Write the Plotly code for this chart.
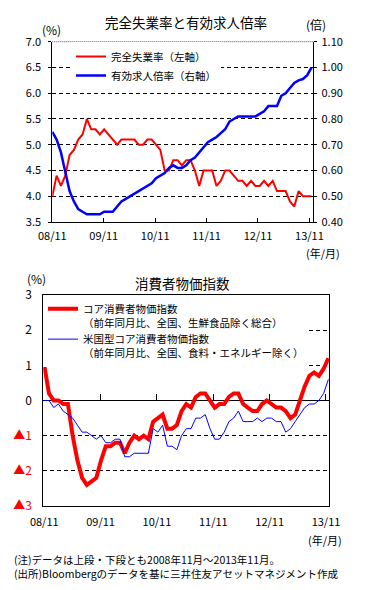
import plotly.graph_objects as go

# ---------------- data ----------------
MONTHS = list(range(61))  # 0 = 2008/11 ... 60 = 2013/11
TICK_TEXT = ["08/11", "09/11", "10/11", "11/11", "12/11", "13/11"]
TICK_POS = [0, 11.9, 23.8, 35.7, 47.6, 59.5]

UNEMP = [4.0, 4.4, 4.2, 4.4, 4.8, 4.9, 5.1, 5.2, 5.5, 5.3,
         5.3, 5.2, 5.3, 5.2, 5.1, 5.0, 5.1, 5.1, 5.1, 5.1,
         5.0, 5.0, 5.1, 5.1, 5.0, 4.9, 4.5, 4.5, 4.7, 4.7,
         4.6, 4.7, 4.7, 4.5, 4.2, 4.5, 4.5, 4.5, 4.2, 4.3,
         4.5, 4.5, 4.4, 4.3, 4.3, 4.2, 4.3, 4.2, 4.2, 4.3,
         4.2, 4.3, 4.1, 4.1, 4.1, 3.9, 3.8, 4.1, 4.0, 4.0, 4.0]

JOBRATIO = [0.75, 0.72, 0.67, 0.60, 0.52, 0.48, 0.45, 0.44, 0.43, 0.43,
            0.43, 0.43, 0.44, 0.44, 0.44, 0.46, 0.48, 0.49, 0.50, 0.51,
            0.52, 0.53, 0.54, 0.55, 0.57, 0.58, 0.59, 0.61, 0.62, 0.61,
            0.61, 0.62, 0.64, 0.65, 0.67, 0.69, 0.71, 0.72, 0.73, 0.745,
            0.76, 0.79, 0.80, 0.81, 0.81, 0.81, 0.81, 0.81, 0.82, 0.83,
            0.85, 0.85, 0.85, 0.89, 0.90, 0.92, 0.94, 0.95, 0.955, 0.97, 1.00]

CORE_CPI = [1.0, 0.2, 0.0, 0.0, -0.1, -0.1, -1.0, -1.7, -2.2, -2.4,
            -2.3, -2.2, -1.7, -1.3, -1.3, -1.2, -1.2, -1.5, -1.2, -1.0,
            -1.1, -1.0, -1.1, -0.6, -0.5, -0.4, -0.8, -0.8, -0.7, -0.3,
            -0.1, -0.2, 0.1, 0.2, 0.2, 0.0, -0.2, -0.1, -0.1, 0.1,
            0.2, 0.2, -0.1, -0.2, -0.3, -0.3, -0.1, 0.0, -0.1, -0.2,
            -0.2, -0.3, -0.5, -0.4, 0.0, 0.4, 0.7, 0.8, 0.7, 0.9, 1.2]

US_CORE = [0.0, 0.0, -0.2, -0.1, -0.3, -0.4, -0.5, -0.7, -0.9, -0.9,
           -1.0, -1.1, -1.0, -1.2, -1.2, -1.1, -1.1, -1.6, -1.6, -1.5,
           -1.5, -1.5, -1.5, -0.8, -0.9, -0.7, -1.3, -1.3, -1.4, -1.0,
           -0.8, -0.8, -0.5, -0.5, -0.4, -0.8, -1.1, -1.1, -0.9, -0.6,
           -0.5, -0.3, -0.6, -0.6, -0.6, -0.5, -0.6, -0.5, -0.5, -0.6,
           -0.6, -0.9, -0.8, -0.6, -0.4, -0.2, -0.1, -0.1, 0.0, 0.2, 0.6]

LEFT_TICKS = [3.5, 4.0, 4.5, 5.0, 5.5, 6.0, 6.5, 7.0]
RIGHT_TICKS = [0.4, 0.5, 0.6, 0.7, 0.8, 0.9, 1.0, 1.1]
CPI_TICKS = [-3, -2, -1, 0, 1, 2, 3]
CPI_TICK_TEXT = ["<span style='color:#ff0000'>▲3</span>",
                 "<span style='color:#ff0000'>▲2</span>",
                 "<span style='color:#ff0000'>▲1</span>",
                 "0", "1", "2", "3"]

NAME_UNEMP = "完全失業率（左軸）"
NAME_JOB = "有効求人倍率（右軸）"
NAME_CORE = "コア消費者物価指数<br>（前年同月比、全国、生鮮食品除く総合）"
NAME_US = "米国型コア消費者物価指数<br>（前年同月比、全国、食料・エネルギー除く）"

NOTE_1 = "(注)データは上段・下段とも2008年11月～2013年11月。"
NOTE_2 = "(出所)Bloombergのデータを基に三井住友アセットマネジメント作成"

# ---------------- layout helpers ----------------
W, H = 375, 590
FONT = "Noto Sans CJK JP"
def px(x):
    return x / W
def py(y):
    return 1 - y / H

RED = "#ff0000"
BLUE = "#0000ff"
DASH = "4px,3px"

fig = go.Figure()

fig.add_trace(go.Scatter(x=MONTHS, y=UNEMP, mode="lines", name=NAME_UNEMP,
                         line=dict(color=RED, width=2), xaxis="x", yaxis="y",
                         legend="legend"))
fig.add_trace(go.Scatter(x=MONTHS, y=JOBRATIO, mode="lines", name=NAME_JOB,
                         line=dict(color=BLUE, width=2.5), xaxis="x", yaxis="y3",
                         legend="legend"))
fig.add_trace(go.Scatter(x=MONTHS, y=CORE_CPI, mode="lines", name=NAME_CORE,
                         line=dict(color=RED, width=4), xaxis="x2", yaxis="y2",
                         legend="legend2"))
fig.add_trace(go.Scatter(x=MONTHS, y=US_CORE, mode="lines", name=NAME_US,
                         line=dict(color=BLUE, width=1), xaxis="x2", yaxis="y2",
                         legend="legend2"))
# carrier for the tick marks drawn on the zero line
fig.add_trace(go.Scatter(x=MONTHS, y=US_CORE, mode="lines", showlegend=False,
                         line=dict(color="rgba(0,0,0,0)", width=0), hoverinfo="skip",
                         xaxis="x3", yaxis="y2"))

axis_font = dict(family=FONT, size=11, color="black")

fig.update_layout(
    template="none",
    width=W, height=H,
    margin=dict(l=0, r=0, t=0, b=0, pad=0),
    paper_bgcolor="white", plot_bgcolor="white",
    font=dict(family=FONT, size=11, color="black"),
    xaxis=dict(domain=[px(52.3), px(313.3)], anchor="y", range=[0, 60.4],
               automargin=False,
               tickvals=TICK_POS, ticktext=TICK_TEXT, ticks="inside", ticklen=4,
               tickcolor="black", showline=True, linecolor="black", linewidth=1,
               showgrid=False, zeroline=False, tickfont=axis_font,
               ticklabelstandoff=4),
    yaxis=dict(domain=[py(222), py(41.7)], anchor="x", range=[3.5, 7.0],
               automargin=False,
               tickvals=LEFT_TICKS, tickformat=".1f", ticks="outside", ticklen=3,
               tickcolor="black", showline=True, linecolor="black", linewidth=1,
               showgrid=True, gridcolor="black", gridwidth=1, griddash=DASH,
               zeroline=False, tickfont=axis_font, ticklabelstandoff=5),
    yaxis3=dict(overlaying="y", side="right", anchor="x", range=[0.4, 1.1],
                automargin=False,
                tickvals=RIGHT_TICKS, tickformat=".2f", ticks="outside", ticklen=3,
                tickcolor="black", showline=True, linecolor="black", linewidth=1,
                showgrid=False, zeroline=False, tickfont=axis_font,
                ticklabelstandoff=2),
    xaxis2=dict(domain=[px(43.3), px(329.3)], anchor="y2", range=[-0.2, 60.2],
                automargin=False,
                tickvals=TICK_POS, ticktext=TICK_TEXT, ticks="",
                showline=True, mirror=True, linecolor="black", linewidth=1,
                showgrid=False, zeroline=False, tickfont=axis_font,
                ticklabelstandoff=6),
    yaxis2=dict(domain=[py(506), py(295)], anchor="x2", range=[-3, 3],
                automargin=False,
                tickvals=CPI_TICKS, ticktext=CPI_TICK_TEXT, ticks="",
                showline=True, mirror=True, linecolor="black", linewidth=1,
                showgrid=True, gridcolor="black", gridwidth=1, griddash=DASH,
                zeroline=True, zerolinecolor="black", zerolinewidth=1,
                tickfont=dict(family=FONT, size=12, color="black"),
                ticklabelstandoff=8),
    xaxis3=dict(overlaying="x2", anchor="free", position=py(400.3),
                automargin=False,
                range=[-0.2, 60.2], tickvals=TICK_POS, ticks="inside", ticklen=6,
                tickcolor="black", showticklabels=False, showline=False,
                showgrid=False, zeroline=False),
    legend=dict(x=px(71), y=py(42), xanchor="left", yanchor="top",
                bgcolor="white", borderwidth=0, font=dict(family=FONT, size=10.5),
                tracegroupgap=0),
    legend2=dict(x=px(43), y=py(295.5), xanchor="left", yanchor="top",
                 bgcolor="white", borderwidth=0, font=dict(family=FONT, size=10.5),
                 valign="top", tracegroupgap=0),
    showlegend=True,
    hovermode=False,
)

# top border of the upper chart: dotted grey
fig.add_shape(type="line", xref="x domain", yref="y domain", x0=0, x1=1, y0=1, y1=1,
              line=dict(color="white", width=1.5), layer="above")
fig.add_shape(type="line", xref="x domain", yref="y domain", x0=0, x1=1, y0=1, y1=1,
              line=dict(color="#555555", width=1, dash="1px,1px"), layer="above")

def ann(text, x, y, size=11, xanchor="center", yanchor="middle"):
    fig.add_annotation(text=text, x=px(x), y=py(y), xref="paper", yref="paper",
                       showarrow=False, xanchor=xanchor, yanchor=yanchor,
                       borderpad=0, align="left",
                       font=dict(family=FONT, size=size, color="black"))

ann("完全失業率と有効求人倍率", 186, 21.7, size=13.5)
ann("(%)", 51.5, 29, size=12)
ann("(倍)", 316, 24.5, size=12)
ann("(年/月)", 322.5, 253)
ann("消費者物価指数", 182.5, 282.7, size=13.5)
ann("(%)", 36, 278.3, size=12)
ann("(年/月)", 324.5, 539.5)
ann(NOTE_1 + "<br>" + NOTE_2, 13, 566, size=10.5, xanchor="left")

fig.write_html("out.html", include_plotlyjs=True,
               config={"displayModeBar": False, "staticPlot": True},
               post_script="document.body.style.margin='0';")
